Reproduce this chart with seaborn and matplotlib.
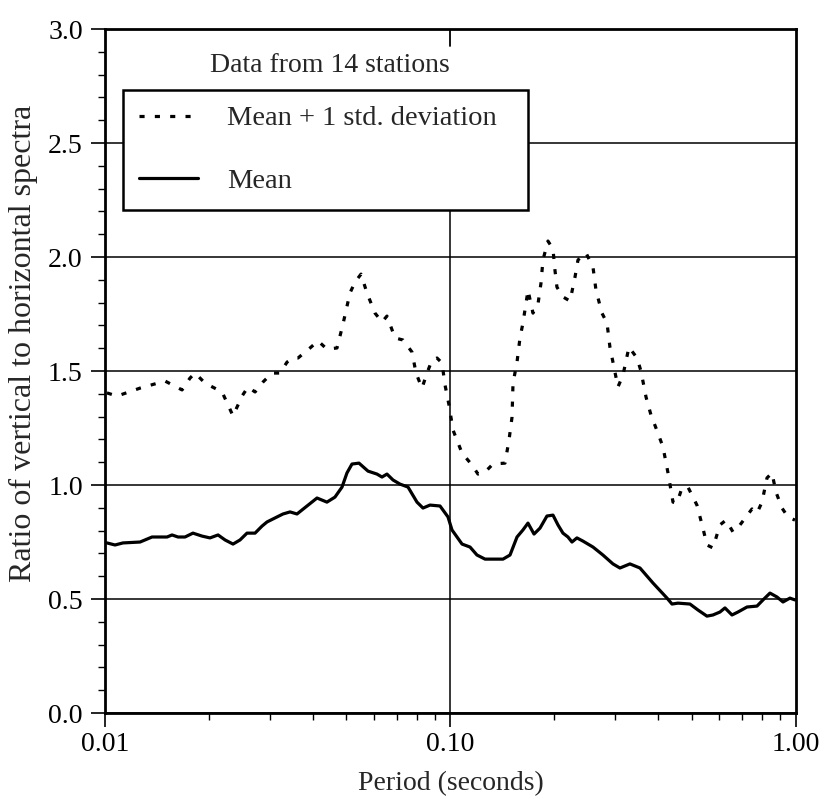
import numpy as np
import pandas as pd
import matplotlib
matplotlib.use("Agg")
import matplotlib.pyplot as plt
import matplotlib.ticker as mticker
from matplotlib.lines import Line2D
import seaborn as sns

# Период (с) и отношение спектров
period_std = [0.01013, 0.01083, 0.01263, 0.01492, 0.01671, 0.01762, 0.01822, 0.01947,
              0.02182, 0.02256, 0.02347, 0.02492, 0.02594, 0.02718, 0.02867, 0.03044,
              0.03210, 0.03364, 0.03500, 0.03619, 0.03921, 0.04136, 0.04389, 0.04693,
              0.04885, 0.05117, 0.05291, 0.05508, 0.05732, 0.06046, 0.06334, 0.06548,
              0.06910, 0.07288, 0.07738, 0.07947, 0.08269, 0.08551, 0.08841, 0.09141,
              0.09451, 0.09641, 0.09901, 0.1017, 0.1080, 0.1154, 0.1201, 0.1259,
              0.1327, 0.1438, 0.1477, 0.1507, 0.1517, 0.1558, 0.1589, 0.1621,
              0.1665, 0.1676, 0.1733, 0.1792, 0.1828, 0.1852, 0.1915, 0.1980,
              0.2006, 0.2033, 0.2116, 0.2218, 0.2293, 0.2339, 0.2467, 0.2585,
              0.2637, 0.2744, 0.2838, 0.2894, 0.2953, 0.3053, 0.3157, 0.3286,
              0.3466, 0.3559, 0.3681, 0.3805, 0.3934, 0.4122, 0.4262, 0.4406,
              0.4525, 0.4677, 0.4868, 0.5168, 0.5379, 0.5525, 0.5750, 0.6026,
              0.6272, 0.6573, 0.6887, 0.7168, 0.7460, 0.7713, 0.7974, 0.8244,
              0.8523, 0.8753, 0.9111, 0.9480, 0.9933]
ratio_std = [1.404, 1.390, 1.425, 1.456, 1.417, 1.469, 1.491, 1.447,
             1.408, 1.360, 1.303, 1.390, 1.430, 1.408, 1.452, 1.491,
             1.491, 1.539, 1.557, 1.557, 1.601, 1.632, 1.596, 1.601,
             1.706, 1.842, 1.890, 1.925, 1.842, 1.754, 1.715, 1.741,
             1.645, 1.636, 1.583, 1.491, 1.425, 1.491, 1.548, 1.557,
             1.535, 1.439, 1.351, 1.241, 1.140, 1.088, 1.048, 1.057,
             1.092, 1.096, 1.197, 1.298, 1.447, 1.539, 1.645, 1.711,
             1.825, 1.855, 1.754, 1.794, 1.886, 1.987, 2.070, 2.035,
             1.943, 1.868, 1.825, 1.807, 1.912, 1.987, 2.018, 1.956,
             1.855, 1.754, 1.711, 1.605, 1.539, 1.430, 1.482, 1.605,
             1.557, 1.500, 1.386, 1.307, 1.250, 1.167, 1.053, 0.925,
             0.921, 0.987, 0.991, 0.912, 0.811, 0.737, 0.724, 0.825,
             0.846, 0.794, 0.825, 0.860, 0.895, 0.877, 0.925, 1.031,
             1.053, 0.969, 0.899, 0.860, 0.846]

period_mean = [0.01013, 0.01069, 0.01127, 0.01263, 0.01368, 0.01512, 0.01563, 0.01627,
               0.01704, 0.01797, 0.01909, 0.02013, 0.02124, 0.02226, 0.02347, 0.02459,
               0.02576, 0.02718, 0.02848, 0.02944, 0.03147, 0.03275, 0.03432, 0.03595,
               0.03843, 0.04108, 0.04389, 0.04630, 0.04853, 0.05016, 0.05186, 0.05434,
               0.05770, 0.06127, 0.06334, 0.06548, 0.06818, 0.07143, 0.07535, 0.07998,
               0.08325, 0.08724, 0.09326, 0.09835, 0.1010, 0.1080, 0.1139, 0.1193,
               0.1259, 0.1419, 0.1487, 0.1558, 0.1621, 0.1676, 0.1745, 0.1816,
               0.1902, 0.1980, 0.2047, 0.2116, 0.2188, 0.2247, 0.2323, 0.2418,
               0.2585, 0.2762, 0.2953, 0.3094, 0.3307, 0.3536, 0.3857, 0.4234,
               0.4377, 0.4555, 0.4934, 0.5203, 0.5525, 0.5750, 0.6026, 0.6230,
               0.6529, 0.6795, 0.7216, 0.7713, 0.8027, 0.8410, 0.8810, 0.9172,
               0.9607, 0.9933]
ratio_mean = [0.746, 0.737, 0.746, 0.750, 0.772, 0.772, 0.781, 0.772,
              0.772, 0.789, 0.776, 0.768, 0.781, 0.759, 0.741, 0.759,
              0.789, 0.789, 0.820, 0.838, 0.860, 0.873, 0.882, 0.873,
              0.908, 0.943, 0.925, 0.947, 0.991, 1.053, 1.092, 1.096,
              1.061, 1.048, 1.035, 1.048, 1.022, 1.004, 0.991, 0.925,
              0.899, 0.912, 0.908, 0.860, 0.803, 0.741, 0.728, 0.693,
              0.675, 0.675, 0.693, 0.772, 0.803, 0.833, 0.785, 0.811,
              0.864, 0.868, 0.825, 0.789, 0.772, 0.750, 0.768, 0.754,
              0.728, 0.693, 0.654, 0.636, 0.654, 0.636, 0.570, 0.504,
              0.478, 0.482, 0.478, 0.452, 0.425, 0.430, 0.443, 0.461,
              0.430, 0.443, 0.465, 0.469, 0.496, 0.526, 0.509, 0.487,
              0.504, 0.496]

x_ticks = [0.01, 0.1, 1.0]
x_tick_labels = ["0.01", "0.10", "1.00"]
y_ticks = [0.0, 0.5, 1.0, 1.5, 2.0, 2.5, 3.0]

df_std = pd.DataFrame({"period": period_std, "ratio": ratio_std})
df_mean = pd.DataFrame({"period": period_mean, "ratio": ratio_mean})

sns.set_style("ticks")
plt.rcParams["font.family"] = ["Liberation Serif", "DejaVu Serif"]

fig = plt.figure(figsize=(8.25, 7.99), dpi=100)
ax = fig.add_axes([0.1273, 0.1076, 0.8375, 0.8561])

dots = (0, (1.6, 3.2))
sns.lineplot(data=df_std, x="period", y="ratio", ax=ax, color="black",
             linewidth=2.3, linestyle=dots, estimator=None, sort=False)
sns.lineplot(data=df_mean, x="period", y="ratio", ax=ax, color="black",
             linewidth=2.3, estimator=None, sort=False)

ax.set_xscale("log")
ax.set_xlim(0.01, 1.0)
ax.set_ylim(0, 3.0)
ax.set_xticks(x_ticks)
ax.set_xticklabels(x_tick_labels)
ax.xaxis.set_minor_locator(mticker.LogLocator(base=10, subs=np.arange(2, 10)))
ax.xaxis.set_minor_formatter(mticker.NullFormatter())
ax.set_yticks(y_ticks)
ax.yaxis.set_major_formatter(mticker.FormatStrFormatter("%.1f"))
ax.yaxis.set_minor_locator(mticker.MultipleLocator(0.1))

# сетка: горизонтальные линии и одна вертикальная на 0.10
ax.grid(axis="y", which="major", color="black", linewidth=1.1)
ax.axvline(0.1, ymin=0, ymax=0.735, color="black", linewidth=1.1)
ax.axvline(0.1, ymin=0.975, ymax=1, color="black", linewidth=1.3)

for s in ax.spines.values():
    s.set_linewidth(2.0)
    s.set_color("black")
ax.tick_params(which="major", direction="out", length=10, width=1.2,
               labelsize=20, colors="black")
ax.tick_params(which="minor", direction="out", length=5, width=1.0, colors="black")
ax.tick_params(axis="y", which="major", pad=6)
ax.tick_params(axis="x", which="major", pad=4)

ax.set_xlabel("Period (seconds)", fontsize=20, labelpad=10)
ax.set_ylabel("Ratio of vertical to horizontal spectra", fontsize=23)
ax.yaxis.set_label_coords(-0.097, 0.54)

ax.text(0.326, 0.947, "Data from 14 stations", transform=ax.transAxes,
        ha="center", va="center", fontsize=20)

handles = [Line2D([], [], color="black", linewidth=2.3, linestyle=dots),
           Line2D([], [], color="black", linewidth=2.3)]
leg = ax.legend(handles, ["Mean + 1 std. deviation", "Mean"],
                loc="upper left", bbox_to_anchor=(0.026, 0.735, 0.586, 0.176),
                mode="expand", fontsize=20.5, frameon=True, fancybox=False,
                framealpha=1, edgecolor="black", borderaxespad=0, borderpad=0.55,
                labelspacing=1.3, handlelength=2.1, handletextpad=1.0)
leg.get_frame().set_linewidth(1.8)
leg.set_zorder(10)

fig.savefig("out.png", dpi=100, facecolor="white")
